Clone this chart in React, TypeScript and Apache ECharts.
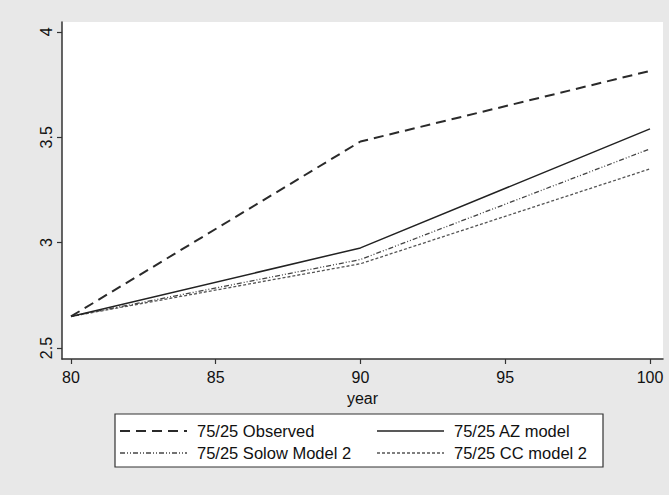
import React, { useEffect, useRef } from "react";
import * as echarts from "echarts";

const years = [80, 90, 100];
const observed = [2.65, 3.48, 3.815];
const azModel = [2.65, 2.975, 3.54];
const solowModel2 = [2.65, 2.92, 3.445];
const ccModel2 = [2.65, 2.9, 3.35];

const seriesNames = ["75/25 Observed", "75/25 AZ model", "75/25 Solow Model 2", "75/25 CC model 2"];
const xTicks = [80, 85, 90, 95, 100];
const yTicks = [2.5, 3, 3.5, 4];
const xTitle = "year";

const FONT = "'Liberation Sans', Arial, sans-serif";

const styles = [
  { color: "#2a2a2a", width: 2, type: [10, 6] as any },
  { color: "#222222", width: 1.5, type: "solid" as any },
  { color: "#444444", width: 1.3, type: [5, 2, 1, 2, 1, 2] as any },
  { color: "#555555", width: 1.3, type: [3, 2] as any },
];

export default function App() {
  const ref = useRef<HTMLDivElement>(null);
  useEffect(() => {
    if (!ref.current) return;
    const chart = echarts.init(ref.current, undefined, { renderer: "svg" });
    const values = [observed, azModel, solowModel2, ccModel2];
    const series = values.map((vals, i) => ({
      name: seriesNames[i],
      type: "line",
      data: years.map((y, j) => [y, vals[j]]),
      showSymbol: false,
      symbol: "none",
      lineStyle: { color: styles[i].color, width: styles[i].width, type: styles[i].type },
      z: 4 - i,
    }));

    // legend graphic
    const legendX = 115, legendY = 414, legendW = 488, legendH = 53;
    const cols = [
      { lx0: 120, lx1: 187, tx: 197 },
      { lx0: 377, lx1: 444, tx: 454 },
    ];
    const rows = [431, 453];
    const order = [0, 1, 2, 3];
    const legendEls: any[] = [
      {
        type: "rect",
        shape: { x: legendX, y: legendY, width: legendW, height: legendH },
        style: { fill: "#ffffff", stroke: "#333333", lineWidth: 1.2 },
      },
    ];
    order.forEach((si, k) => {
      const c = cols[k % 2];
      const r = rows[Math.floor(k / 2)];
      const st = styles[si];
      legendEls.push({
        type: "line",
        shape: { x1: c.lx0, y1: r, x2: c.lx1, y2: r },
        style: {
          stroke: st.color,
          lineWidth: st.width,
          lineDash: st.type === "solid" ? null : st.type,
        },
      });
      legendEls.push({
        type: "text",
        x: c.tx,
        y: r,
        style: {
          text: seriesNames[si],
          fontFamily: FONT,
          fontSize: 16.5,
          fill: "#111111",
          verticalAlign: "middle",
          align: "left",
        },
      });
    });

    chart.setOption({
      animation: false,
      backgroundColor: "#e8e8e8",
      grid: {
        left: 62,
        right: 6,
        top: 22,
        bottom: 136,
        show: true,
        backgroundColor: "#ffffff",
        borderWidth: 0,
      },
      xAxis: {
        type: "value",
        min: 79.69,
        max: 100.45,
        name: xTitle,
        nameLocation: "middle",
        nameGap: 31,
        nameTextStyle: { fontFamily: FONT, fontSize: 16, color: "#111" },
        axisLine: { show: true, onZero: false, lineStyle: { color: "#333", width: 1.5 } },
        axisTick: { show: true, length: 5, customValues: xTicks, lineStyle: { color: "#333", width: 1.2 } },
        axisLabel: { customValues: xTicks, fontFamily: FONT, fontSize: 16, color: "#111", margin: 10 },
        splitLine: { show: false },
      },
      yAxis: {
        type: "value",
        min: 2.448,
        max: 4.047,
        axisLine: { show: true, onZero: false, lineStyle: { color: "#333", width: 1.5 } },
        axisTick: { show: true, length: 5, customValues: yTicks, lineStyle: { color: "#333", width: 1.2 } },
        axisLabel: {
          customValues: yTicks,
          rotate: 90,
          fontFamily: FONT,
          fontSize: 16,
          color: "#111",
          margin: 8,
        },
        splitLine: { show: false },
      },
      series,
      graphic: legendEls,
    } as any);
    return () => chart.dispose();
  }, []);
  return (
    <div
      ref={ref}
      style={{ position: "fixed", left: 0, top: 0, width: 669, height: 495 }}
    />
  );
}
